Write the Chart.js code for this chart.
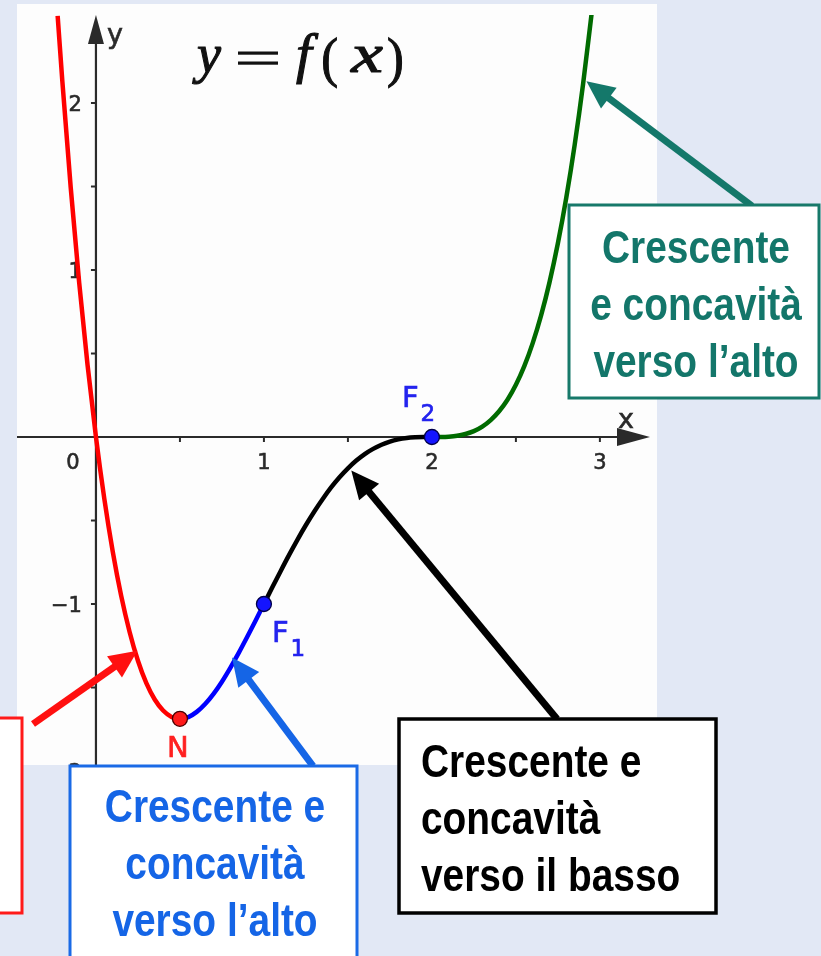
<!DOCTYPE html>
<html>
<head>
<meta charset="utf-8">
<script src="https://cdn.jsdelivr.net/npm/chart.js@4/dist/chart.umd.min.js"></script>
<style>
  html, body { margin: 0; padding: 0; background: #e2e8f5; }
  #wrap { position: relative; width: 821px; height: 956px; }
</style>
</head>
<body>
<div id="wrap"><canvas id="graph"></canvas></div>
<script>
// y = f(x), sampled along each arc of the curve
const redX   = [-0.228, -0.2, -0.15, -0.1, -0.05, 0, 0.05, 0.1, 0.15, 0.2, 0.25, 0.3, 0.35, 0.4, 0.45, 0.5];
const redY   = [2.522, 2.130, 1.491, 0.926, 0.431, 0, -0.371, -0.686, -0.950, -1.166, -1.340, -1.474, -1.572, -1.638, -1.676, -1.6875];

const blueX  = [0.5, 0.55, 0.6, 0.65, 0.7, 0.75, 0.8, 0.85, 0.9, 0.95, 1.0];
const blueY  = [-1.6875, -1.677, -1.646, -1.599, -1.538, -1.465, -1.382, -1.293, -1.198, -1.100, -1.0];

const blackX = [1.0, 1.05, 1.1, 1.15, 1.2, 1.25, 1.3, 1.35, 1.4, 1.45, 1.5, 1.55, 1.6, 1.65, 1.7, 1.75, 1.8, 1.85, 1.9, 1.95, 2.0];
const blackY = [-1.0, -0.900, -0.802, -0.706, -0.614, -0.527, -0.446, -0.371, -0.302, -0.241, -0.1875, -0.141, -0.102, -0.071, -0.046, -0.027, -0.014, -0.006, -0.002, -0.0002, 0];

const greenX = [2.0, 2.05, 2.1, 2.15, 2.2, 2.25, 2.3, 2.35, 2.4, 2.45, 2.5, 2.55, 2.6, 2.65, 2.7, 2.75, 2.8, 2.85, 2.9, 2.95];
const greenY = [0, 0.0003, 0.002, 0.007, 0.018, 0.035, 0.062, 0.101, 0.154, 0.223, 0.3125, 0.424, 0.562, 0.728, 0.926, 1.160, 1.434, 1.750, 2.114, 2.529];

// Marked points: minimum N and the two inflection points
const pointNames = ['N', 'F', 'F'];
const pointSubs  = ['', '1', '2'];
const pointX     = [0.5, 1, 2];
const pointY     = [-1.6875, -1, 0];

// Axis ticks
const xTickValues = [0.5, 1, 1.5, 2, 2.5, 3];
const xLabelValues = [1, 2, 3];
const xLabels      = ['1', '2', '3'];
const yTickValues = [-2, -1.5, -1, -0.5, 0.5, 1, 1.5, 2];
const yLabelValues = [2, 1, -1, -2];
const yLabels      = ['2', '1', '\u22121', '\u22122'];

// Callouts: text lines and the curve point each arrow points at
const tealLines  = ['Crescente', 'e concavità', 'verso l\u2019alto'];
const blackLines = ['Crescente e', 'concavità', 'verso il basso'];
const blueLines  = ['Crescente e', 'concavità', 'verso l\u2019alto'];
const tealTip  = [2.92, 2.13];
const blackTip = [1.52, -0.20];
const blueTip  = [0.81, -1.32];
const redTip   = [0.247, -1.28];

const pts = (xs, ys) => xs.map((x, i) => ({ x, y: ys[i] }));

const PANEL = { left: 17, top: 4, right: 657, bottom: 765 };

function arrow(ctx, x1, y1, x2, y2, color, lw, headLen, headHalf) {
  const a = Math.atan2(y2 - y1, x2 - x1);
  const bx = x2 - headLen * Math.cos(a), by = y2 - headLen * Math.sin(a);
  ctx.save();
  ctx.strokeStyle = color; ctx.fillStyle = color; ctx.lineWidth = lw; ctx.lineCap = 'butt';
  ctx.beginPath(); ctx.moveTo(x1, y1); ctx.lineTo(bx + 2 * Math.cos(a), by + 2 * Math.sin(a)); ctx.stroke();
  ctx.beginPath();
  ctx.moveTo(x2, y2);
  ctx.lineTo(bx + headHalf * Math.sin(a), by - headHalf * Math.cos(a));
  ctx.lineTo(bx - headHalf * Math.sin(a), by + headHalf * Math.cos(a));
  ctx.closePath(); ctx.fill();
  ctx.restore();
}

function condensed(ctx, str, x, y, color, size, sx, align) {
  ctx.save();
  ctx.font = 'bold ' + size + 'px "Liberation Sans", Arial, sans-serif';
  ctx.fillStyle = color;
  ctx.textBaseline = 'alphabetic';
  ctx.textAlign = 'left';
  const w = ctx.measureText(str).width * sx;
  const x0 = align === 'center' ? x - w / 2 : x;
  ctx.translate(x0, y); ctx.scale(sx, 1);
  ctx.fillText(str, 0, 0);
  ctx.restore();
}

function box(ctx, l, t, r, b, color, lw) {
  ctx.save();
  ctx.fillStyle = '#ffffff'; ctx.fillRect(l, t, r - l, b - t);
  ctx.strokeStyle = color; ctx.lineWidth = lw; ctx.strokeRect(l, t, r - l, b - t);
  ctx.restore();
}

// one glyph of the formula, its ink fitted between left and right
function glyph(ctx, ch, font, left, right, base) {
  ctx.save();
  ctx.font = font;
  ctx.textAlign = 'left';
  ctx.textBaseline = 'alphabetic';
  const m = ctx.measureText(ch);
  const inkL = -m.actualBoundingBoxLeft, inkW = m.actualBoundingBoxLeft + m.actualBoundingBoxRight;
  const k = (right - left) / inkW;
  ctx.translate(left, base);
  ctx.scale(k, 1);
  ctx.translate(-inkL, 0);
  ctx.fillStyle = '#111'; ctx.strokeStyle = '#111'; ctx.lineWidth = 1.1;
  ctx.fillText(ch, 0, 0);
  ctx.strokeText(ch, 0, 0);
  ctx.restore();
}

const backdrop = {
  id: 'backdrop',
  beforeDraw(chart) {
    const ctx = chart.ctx;
    ctx.save();
    ctx.fillStyle = '#fdfdfd';
    ctx.fillRect(PANEL.left, PANEL.top, PANEL.right - PANEL.left, PANEL.bottom - PANEL.top);
    ctx.restore();
  },
  beforeDatasetsDraw(chart) {
    const ctx = chart.ctx, sx = chart.scales.x, sy = chart.scales.y;
    const ox = sx.getPixelForValue(0), oy = sy.getPixelForValue(0);
    ctx.save();
    ctx.beginPath();
    ctx.rect(PANEL.left, PANEL.top, PANEL.right - PANEL.left, PANEL.bottom - PANEL.top);
    ctx.clip();
    ctx.strokeStyle = '#2a2a2a'; ctx.fillStyle = '#2a2a2a'; ctx.lineWidth = 2.2;
    // x axis with arrow head
    const xTip = sx.right - 7;
    ctx.beginPath(); ctx.moveTo(PANEL.left, oy); ctx.lineTo(xTip - 20, oy); ctx.stroke();
    ctx.beginPath(); ctx.moveTo(xTip, oy); ctx.lineTo(xTip - 33, oy - 9); ctx.lineTo(xTip - 33, oy + 9); ctx.closePath(); ctx.fill();
    // y axis with arrow head
    const yTip = sy.top;
    ctx.beginPath(); ctx.moveTo(ox, PANEL.bottom); ctx.lineTo(ox, yTip + 20); ctx.stroke();
    ctx.beginPath(); ctx.moveTo(ox, yTip); ctx.lineTo(ox - 8, yTip + 29); ctx.lineTo(ox + 8, yTip + 29); ctx.closePath(); ctx.fill();
    // tick marks
    ctx.lineWidth = 2;
    xTickValues.forEach(v => {
      const p = sx.getPixelForValue(v);
      ctx.beginPath(); ctx.moveTo(p, oy); ctx.lineTo(p, oy + 5); ctx.stroke();
    });
    yTickValues.forEach(v => {
      const p = sy.getPixelForValue(v);
      ctx.beginPath(); ctx.moveTo(ox - 5, p); ctx.lineTo(ox, p); ctx.stroke();
    });
    // tick labels
    ctx.fillStyle = '#2a2a2a'; ctx.strokeStyle = '#2a2a2a'; ctx.lineWidth = 0.6;
    ctx.font = '21px "DejaVu Sans", sans-serif';
    ctx.textBaseline = 'alphabetic';
    ctx.textAlign = 'center';
    const lbl = (s, x, y) => { ctx.fillText(s, x, y); ctx.strokeText(s, x, y); };
    xLabelValues.forEach((v, i) => lbl(xLabels[i], sx.getPixelForValue(v), oy + 32));
    lbl('0', ox - 23, oy + 32);
    ctx.textAlign = 'right';
    yLabelValues.forEach((v, i) => lbl(yLabels[i], ox - 14, sy.getPixelForValue(v) + 8));
    // axis names
    ctx.font = '27px "DejaVu Sans", sans-serif';
    ctx.textAlign = 'left';
    lbl('y', ox + 11, yTip + 28);
    lbl('x', xTip - 32, oy - 9);
    ctx.restore();
  },
  afterDraw(chart) {
    const ctx = chart.ctx, sx = chart.scales.x, sy = chart.scales.y;
    // point names
    const offs = [[-2, 38, 'center'], [8, 38, 'left'], [-30, -30, 'left']];
    const cols = ['#ff2020', '#2323ee', '#2323ee'];
    pointNames.forEach((n, i) => {
      const px = sx.getPixelForValue(pointX[i]) + offs[i][0];
      const py = sy.getPixelForValue(pointY[i]) + offs[i][1];
      ctx.save();
      ctx.fillStyle = cols[i]; ctx.strokeStyle = cols[i]; ctx.lineWidth = 0.7;
      ctx.font = '29px "DejaVu Sans", sans-serif';
      ctx.textAlign = offs[i][2];
      ctx.textBaseline = 'alphabetic';
      ctx.fillText(n, px, py); ctx.strokeText(n, px, py);
      if (pointSubs[i]) {
        const w = ctx.measureText(n).width;
        ctx.font = '23px "DejaVu Sans", sans-serif';
        ctx.textAlign = 'left';
        ctx.fillText(pointSubs[i], px + w + 2, py + 14);
        ctx.strokeText(pointSubs[i], px + w + 2, py + 14);
      }
      ctx.restore();
    });

    // formula y = f(x)
    const it = 'italic 54px "Liberation Serif", "DejaVu Serif", serif';
    const up = '54px "Liberation Serif", "DejaVu Serif", serif';
    const base = 72;
    glyph(ctx, 'y', it, 192, 221, base);
    ctx.save(); ctx.fillStyle = '#111';
    ctx.fillRect(238, 51.5, 40, 3.2); ctx.fillRect(238, 61.5, 40, 3.2);
    ctx.restore();
    glyph(ctx, 'f', it, 296, 319, base);
    glyph(ctx, '(', up, 323, 337, base + 4);
    glyph(ctx, 'x', it, 350, 383, base);
    glyph(ctx, ')', up, 388, 402, base + 4);

    // callout arrows
    const P = t => [sx.getPixelForValue(t[0]), sy.getPixelForValue(t[1])];
    let t;
    t = P(tealTip);  arrow(ctx, 752, 206, t[0], t[1], '#14786a', 7, 28, 13);
    t = P(blackTip); arrow(ctx, 557, 719, t[0], t[1], '#000000', 7, 28, 13);
    t = P(blueTip);  arrow(ctx, 313, 766, t[0], t[1], '#1565e6', 7, 28, 13);
    t = P(redTip);   arrow(ctx, 33, 724, t[0], t[1], '#ff1010', 7, 28, 13);

    // callout boxes
    box(ctx, 569, 205, 819, 398, '#17796a', 3);
    box(ctx, 399, 719, 716, 913, '#000000', 3.5);
    box(ctx, 70, 766, 357, 975, '#1a6ae6', 3);
    box(ctx, -10, 718, 22, 913, '#ff1a1a', 3);

    const S = 46, K = 0.845;
    tealLines.forEach((s, i) => condensed(ctx, s, 696, 263 + i * 57, '#13766a', S, K, 'center'));
    blackLines.forEach((s, i) => condensed(ctx, s, 421, 777 + i * 57, '#000000', S, K, 'left'));
    blueLines.forEach((s, i) => condensed(ctx, s, 215, 822 + i * 57, '#1565e6', S, K, 'center'));
  }
};

const lineDs = (xs, ys, color) => ({
  data: pts(xs, ys),
  showLine: true,
  borderColor: color,
  borderWidth: 4.5,
  pointRadius: 0,
  cubicInterpolationMode: 'monotone',
  fill: false,
  order: 2
});

new Chart(document.getElementById('graph'), {
  type: 'scatter',
  data: {
    datasets: [
      {
        data: pts(pointX, pointY),
        pointRadius: 7.5,
        pointBackgroundColor: ['#ff1a1a', '#1414ff', '#1414ff'],
        pointBorderColor: ['#4a0000', '#00004a', '#00004a'],
        pointBorderWidth: 1.3,
        showLine: false,
        order: 0
      },
      lineDs(redX, redY, '#ff0000'),
      lineDs(blueX, blueY, '#0000ff'),
      lineDs(blackX, blackY, '#000000'),
      lineDs(greenX, greenY, '#006b00')
    ]
  },
  options: {
    responsive: true,
    maintainAspectRatio: false,
    animation: false,
    events: [],
    layout: { padding: { left: 17, top: 15, right: 164, bottom: 191 } },
    plugins: { legend: { display: false }, tooltip: { enabled: false }, title: { display: false } },
    scales: {
      x: { type: 'linear', min: -0.47, max: 3.34, display: false },
      y: { type: 'linear', min: -1.964, max: 2.527, display: false }
    }
  },
  plugins: [backdrop]
});
</script>
</body>
</html>
